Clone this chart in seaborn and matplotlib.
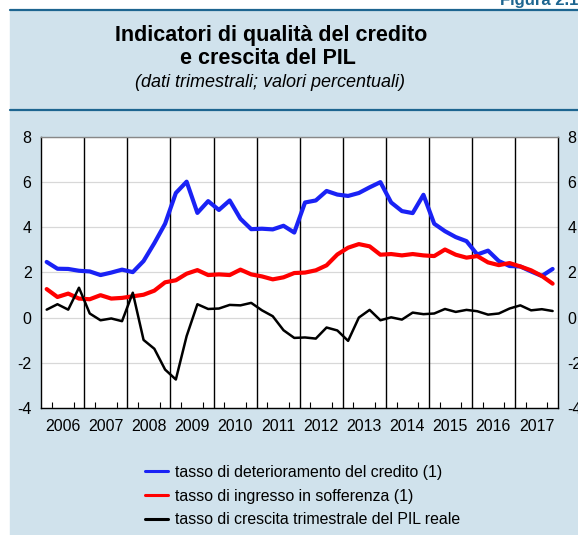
import matplotlib.pyplot as plt
import matplotlib.patches as mpatches
import matplotlib.lines as mlines
import seaborn as sns
import numpy as np
import pandas as pd

# quarterly data 2006Q1 - 2017Q4
years = list(range(2006, 2018))
deterioramento = [
    2.46, 2.16, 2.15, 2.07, 2.04, 1.88, 1.99, 2.12, 2.01, 2.50, 3.29, 4.15,
    5.51, 6.01, 4.63, 5.15, 4.76, 5.18, 4.37, 3.91, 3.93, 3.90, 4.06, 3.76,
    5.09, 5.18, 5.60, 5.44, 5.38, 5.51, 5.76, 5.99, 5.09, 4.71, 4.62, 5.43,
    4.15, 3.82, 3.56, 3.38, 2.79, 2.96, 2.50, 2.28, 2.26, 2.04, 1.84, 2.15,
]
sofferenza = [
    1.26, 0.91, 1.06, 0.84, 0.81, 0.99, 0.84, 0.87, 0.94, 1.01, 1.19, 1.56,
    1.65, 1.94, 2.10, 1.88, 1.91, 1.88, 2.12, 1.91, 1.82, 1.69, 1.78, 1.97,
    1.99, 2.09, 2.31, 2.79, 3.09, 3.25, 3.15, 2.78, 2.81, 2.75, 2.81, 2.75,
    2.72, 3.01, 2.78, 2.65, 2.72, 2.44, 2.32, 2.41, 2.26, 2.09, 1.84, 1.50,
]
pil = [
    0.35, 0.59, 0.35, 1.32, 0.18, -0.12, -0.04, -0.16, 1.10, -0.99, -1.38, -2.30,
    -2.74, -0.82, 0.59, 0.38, 0.40, 0.56, 0.54, 0.65, 0.32, 0.06, -0.56, -0.90,
    -0.88, -0.93, -0.44, -0.57, -1.03, 0.00, 0.34, -0.12, 0.01, -0.09, 0.22, 0.15,
    0.18, 0.38, 0.25, 0.34, 0.28, 0.13, 0.18, 0.40, 0.54, 0.32, 0.37, 0.29,
]
labels = [
    "tasso di deterioramento del credito (1)",
    "tasso di ingresso in sofferenza (1)",
    "tasso di crescita trimestrale del PIL reale",
]
colors = ["#1a22f5", "#ff0000", "#000000"]

# x position: middle of each quarter
t = [y + (q + 0.5) / 4 for y in years for q in range(4)]
df = pd.DataFrame({"t": t, "det": deterioramento, "soff": sofferenza, "pil": pil})

sns.set_theme(style="white")
plt.rcParams["font.family"] = ["Liberation Sans", "DejaVu Sans"]
plt.rcParams["text.color"] = "black"
plt.rcParams["xtick.color"] = "black"
plt.rcParams["ytick.color"] = "black"
plt.rcParams["axes.unicode_minus"] = False

bg = "#d0e2ec"
dark = "#1d6590"

fig = plt.figure(figsize=(5.78, 5.35), dpi=100)
fig.patch.set_facecolor("white")
fig.add_artist(mpatches.Rectangle((10 / 578, 0), 1, 1 - 10 / 535,
                                  transform=fig.transFigure, color=bg, zorder=-5))
for yy in [10, 110]:
    fig.add_artist(mlines.Line2D([10 / 578, 1], [1 - yy / 535] * 2,
                                 transform=fig.transFigure, color=dark, lw=1.6))
fig.text(1.0, 1 - 5 / 535, "Figura 2.1", ha="right", va="baseline",
         fontsize=12, fontweight="bold", color=dark)

fig.text(271 / 578, 1 - 35 / 535, "Indicatori di qualità del credito",
         ha="center", va="center", fontsize=15.5, fontweight="bold")
fig.text(268 / 578, 1 - 58 / 535, "e crescita del PIL",
         ha="center", va="center", fontsize=15.5, fontweight="bold")
fig.text(270 / 578, 1 - 82 / 535, "(dati trimestrali; valori percentuali)",
         ha="center", va="center", fontsize=13, style="italic")

ax = fig.add_axes([41.3 / 578, 1 - 408 / 535, (558 - 41.3) / 578, (408 - 136.7) / 535])
ax.set_facecolor("white")

sns.lineplot(data=df, x="t", y="det", ax=ax, color=colors[0], lw=3.0, label=labels[0], zorder=3)
sns.lineplot(data=df, x="t", y="soff", ax=ax, color=colors[1], lw=3.0, label=labels[1], zorder=4)
sns.lineplot(data=df, x="t", y="pil", ax=ax, color=colors[2], lw=1.8, label=labels[2], zorder=5)

ax.set_xlim(2006, 2018)
ax.set_ylim(-4, 8)
ax.set_yticks(np.arange(-4, 9, 2))
ax.yaxis.grid(True, color="#d8d8d8", lw=0.9)
ax.set_axisbelow(True)
for yr in years[1:]:
    ax.axvline(yr, color="black", lw=1.0, zorder=2)

ax.set_xticks([y + 0.5 for y in years])
ax.set_xticklabels([str(y) for y in years])
ax.set_xticks([y + q / 4 for y in years for q in (1, 2, 3)], minor=True)
ax.tick_params(axis="x", which="major", length=0, pad=8, labelsize=11.5)
ax.tick_params(axis="x", which="minor", direction="in", length=4, width=0.8,
               color="black", bottom=True)
ax.tick_params(axis="y", length=0, pad=7, labelsize=11.5, labelright=True, right=False)
ax.set_xlabel("")
ax.set_ylabel("")
for side in ["left", "right", "bottom"]:
    ax.spines[side].set_color("black")
    ax.spines[side].set_linewidth(1.0)
ax.spines["top"].set_color("#888888")
ax.spines["top"].set_linewidth(1.0)

ax.get_legend().remove()
leg_handles = [mlines.Line2D([], [], color=c, lw=2.2) for c in colors]
fig.legend(leg_handles, labels, loc="center left", bbox_to_anchor=(145 / 578, 1 - 496 / 535),
           frameon=False, fontsize=11.4, handlelength=1.45, handletextpad=0.45,
           labelspacing=0.55, borderpad=0, borderaxespad=0)

fig.savefig("out.png", dpi=100)
